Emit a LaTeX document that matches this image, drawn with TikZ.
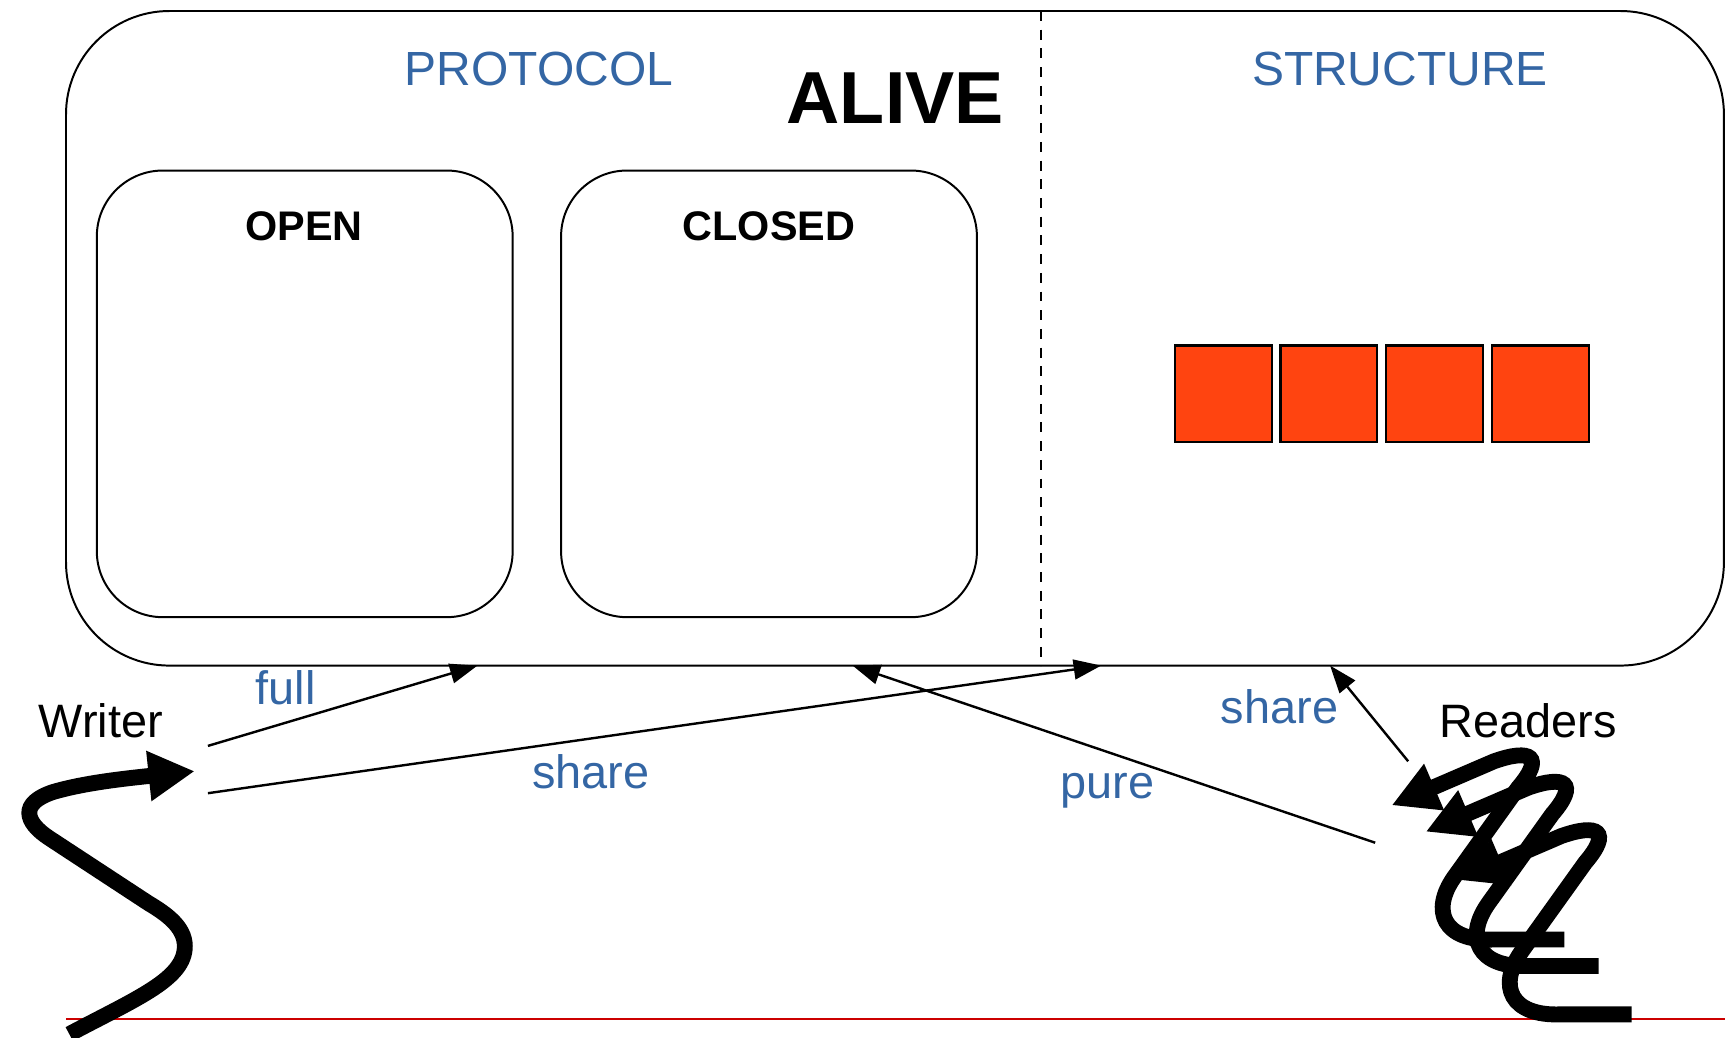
\documentclass[tikz,border=0pt]{standalone}
\usepackage{fontspec}
\setmainfont{Liberation Sans}
\usepackage{tikz}
\usetikzlibrary{arrows.meta}
\definecolor{titleblue}{RGB}{52,102,164}
\definecolor{slotred}{RGB}{255,68,16}
\definecolor{floorred}{RGB}{204,0,0}
\tikzset{
roundbox/.style={draw, line width=0.9pt, inner sep=0pt},
cell/.style={draw, line width=1pt, fill=slotred, minimum size=44pt, inner sep=0pt},
heading/.style={anchor=base, text=titleblue, font=\fontsize{21.8pt}{26pt}\selectfont},
statename/.style={anchor=base, font=\bfseries\fontsize{18.8pt}{22pt}\selectfont},
tag/.style={anchor=base, text=titleblue, font=\fontsize{21.3pt}{25pt}\selectfont},
actor/.style={anchor=base, font=\fontsize{21.3pt}{25pt}\selectfont},
link/.style={line width=1.1pt, -{Triangle[length=12.5pt,width=9pt]}},
squiggle/.style={line width=7.2pt, -{Triangle[length=21pt,width=21.5pt]}},
}

\begin{document}
\begin{tikzpicture}[x=0.5pt,y=0.5pt,yscale=-1]
\useasboundingbox (0,0) rectangle (1568,943);
%Rounded Rect
\node[roundbox, rounded corners=47pt, minimum width=753.5pt, minimum height=297.5pt] (alive) at (813.5,307.5) {};
%Rounded Rect
\node[roundbox, rounded corners=30pt, minimum width=189pt, minimum height=203pt] (openbox) at (277,358) {};
%Rounded Rect
\node[roundbox, rounded corners=30pt, minimum width=189pt, minimum height=203pt] (closedbox) at (699,358) {};
%Dashed Line
\draw[line width=1pt, dash pattern=on 4.5pt off 4pt] (946,10) -- (946,605);
%Squares
\foreach \i in {1,...,4}
  \node[cell] (slot\i) at ({1016+96*\i},358) {};
%Red Line
\draw[floorred, line width=1.1pt] (60,926) -- (1568,926);

\node[heading] (protocol) at (490,77.3) {PROTOCOL};
\node[heading] (structure) at (1272.5,77.3) {STRUCTURE};
\node[anchor=base, font=\bfseries\fontsize{33.5pt}{40pt}\selectfont] (alivetitle) at (813.8,112.7) {ALIVE};
\node[statename] (open) at (276.5,218.8) {OPEN};
\node[statename] (closed) at (699,218.8) {CLOSED};
\node[actor] (writer) at (91.7,670.2) {Writer};
\node[actor] (readers) at (1389,670.5) {Readers};
\node[tag] (fulltag) at (259.8,640.8) {full};
\node[tag] (sharetag) at (537,716.5) {share};
\node[tag] (puretag) at (1006.5,726) {pure};
\node[tag] (readtag) at (1163,658) {share};

\coordinate (fullfrom) at (189,678);
\coordinate (sharefrom) at (189,721);
\coordinate (purefrom) at (1250,766);
\coordinate (readfrom) at (1280,692);
\coordinate (fullto) at (434,605);
\coordinate (shareto) at (1001,605);
\coordinate (pureto) at (775,605);
\coordinate (readto) at (1209,605);
%Straight Lines
\draw[link] (fullfrom) -- (fullto);
\draw[link] (sharefrom) -- (shareto);
\draw[link] (purefrom) -- (pureto);
\draw[link] (readfrom) -- (readto);

%Curve Lines
\draw[squiggle] (63,940) .. controls (125,907) and (168,890) .. (168,860) .. controls (168,842) and (150,830) .. (135,821) -- (45,762) .. controls (22,747) and (18,730) .. (48,720) .. controls (75,712) and (110,708) .. (177,701);
\foreach \dx/\dy in {61/68,31/24,0/0}
  \draw[squiggle, shift={(\dx,\dy)}] (1422,854) -- (1358,854) .. controls (1312,856) and (1300,828) .. (1322,797) -- (1380,716) .. controls (1404,688) and (1392,680) .. (1358,692) -- (1265,732);
\end{tikzpicture}
\end{document}
